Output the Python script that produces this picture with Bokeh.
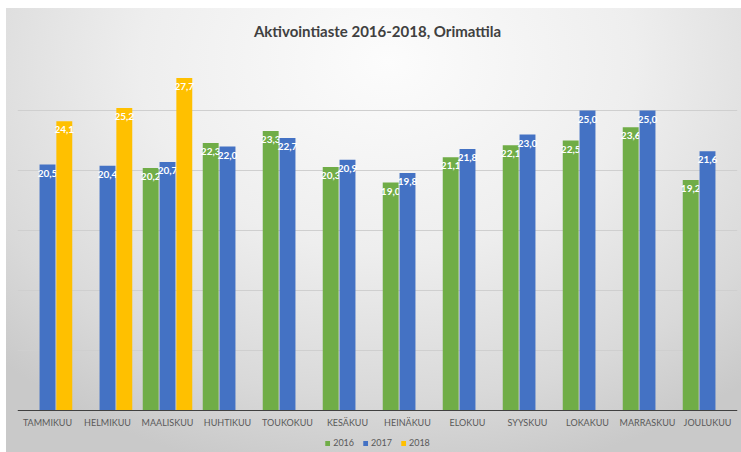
from bokeh.plotting import figure
from bokeh.models import ColumnDataSource, FactorRange, Range1d, FixedTicker, Legend, LegendItem
from bokeh.transform import dodge
from bokeh.core.properties import value
from bokeh.embed import file_html
from bokeh.resources import INLINE

months = ["TAMMIKUU", "HELMIKUU", "MAALISKUU", "HUHTIKUU", "TOUKOKUU", "KESÄKUU",
          "HEINÄKUU", "ELOKUU", "SYYSKUU", "LOKAKUU", "MARRASKUU", "JOULUKUU"]
v2016 = [None, None, 20.2, 22.3, 23.3, 20.3, 19.0, 21.1, 22.1, 22.5, 23.6, 19.2]
v2017 = [20.5, 20.4, 20.7, 22.0, 22.7, 20.9, 19.8, 21.8, 23.0, 25.0, 25.0, 21.6]
v2018 = [24.1, 25.2, 27.7, None, None, None, None, None, None, None, None, None]
series_names = ["2016", "2017", "2018"]
colors = ["#70AD47", "#4472C4", "#FFC000"]
y_ticks = [0, 5, 10, 15, 20, 25, 30]

FONT = "Lato"

p = figure(x_range=FactorRange(*months), y_range=Range1d(-3.5, 30),
           width=735, height=444, output_backend="svg", toolbar_location=None,
           min_border_left=11, min_border_right=4, min_border_top=42, min_border_bottom=0)
p.styles = {"margin-left": "6px", "margin-top": "8px",
            "background": "radial-gradient(ellipse 75% 95% at 52% 12%, #fcfcfc 0%, #eeeeee 45%, #d9d9d9 80%, #c9c9c9 100%)"}
p.border_fill_color = None
p.background_fill_color = None
p.outline_line_color = None

p.title.text = "Aktivointiaste 2016-2018, Orimattila"
p.title.align = "center"
p.title.text_font = FONT
p.title.text_font_size = "15px"
p.title.text_font_style = "bold"
p.title.text_color = "#404040"
p.title.standoff = 22

p.yaxis.visible = False
p.yaxis.ticker = FixedTicker(ticks=y_ticks)
p.ygrid.ticker = FixedTicker(ticks=y_ticks)
p.ygrid.grid_line_color = "#cfcfcf"
p.xgrid.grid_line_color = None

p.xaxis.fixed_location = 0
p.xaxis.axis_line_color = "#404040"
p.xaxis.axis_line_width = 1.2
p.xaxis.major_tick_line_color = None
p.xaxis.minor_tick_line_color = None
p.xaxis.major_label_text_font = FONT
p.xaxis.major_label_text_font_size = "9px"
p.xaxis.major_label_text_color = "#595959"
p.xaxis.major_label_standoff = 0

offsets = [-0.28, 0.0, 0.28]
items = []
for name, vals, col, off in zip(series_names, [v2016, v2017, v2018], colors, offsets):
    ys = [float("nan") if v is None else v for v in vals]
    src = ColumnDataSource(dict(m=months, y=ys))
    r = p.vbar(x=dodge("m", off, range=p.x_range), top="y", width=0.265, source=src,
               fill_color=col, line_color=None)
    items.append(LegendItem(label=name, renderers=[r]))
    lm = [m for m, v in zip(months, vals) if v is not None]
    lv = [v for v in vals if v is not None]
    lt = [f"{v:.1f}".replace(".", ",") for v in lv]
    lsrc = ColumnDataSource(dict(m=lm, y=lv, t=lt))
    p.text(x=dodge("m", off, range=p.x_range), y="y", text="t", source=lsrc,
           text_align="center", text_baseline="top", y_offset=5,
           text_font=value(FONT), text_font_style="bold", text_font_size="10px",
           text_color="white")

legend = Legend(items=items, orientation="horizontal", location="bottom_center",
                background_fill_alpha=0, border_line_color=None,
                label_text_font=FONT, label_text_font_size="9px", label_text_color="#595959",
                glyph_width=6, glyph_height=6, label_standoff=3, spacing=8,
                padding=2, margin=4)
p.add_layout(legend)

open("out.html", "w").write(file_html(p, INLINE))
